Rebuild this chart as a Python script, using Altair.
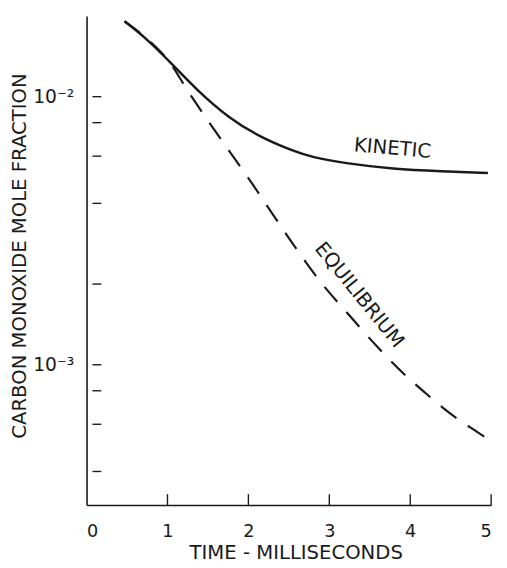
import altair as alt
import pandas as pd

# ---- data ----
kin_t = [0.47, 0.75, 1.06, 1.36, 1.76, 2.17, 2.57, 2.78, 3.18, 3.79, 4.39, 4.96]
kin_v = [1.91e-2, 1.64e-2, 1.32e-2, 1.06e-2, 8.3e-3, 7.0e-3, 6.25e-3,
         5.95e-3, 5.65e-3, 5.37e-3, 5.27e-3, 5.19e-3]

eq_t = [0.47, 0.75, 1.06, 1.21, 1.48, 1.75, 2.04, 2.31, 2.58, 2.89, 3.23, 3.59, 3.92,
        4.22, 4.53, 4.85, 4.96]
eq_v = [1.91e-2, 1.64e-2, 1.30e-2, 1.10e-2, 8.3e-3, 6.35e-3, 4.77e-3, 3.61e-3, 2.74e-3,
        2.04e-3, 1.55e-3, 1.17e-3, 9.26e-4, 7.7e-4, 6.46e-4, 5.56e-4, 5.28e-4]

x_ticks = [0, 1, 2, 3, 4, 5]
x_inner_ticks = [1, 2, 3, 4, 5]
y_labels = [1e-2, 1e-3]
y_inner_ticks = [1e-2, 8e-3, 6e-3, 4e-3, 2e-3, 1e-3, 8e-4, 6e-4, 4e-4]

label_text = ["KINETIC", "EQUILIBRIUM"]
label_t = [3.78, 3.37]
label_v = [6.4e-3, 1.82e-3]

FONT = "DejaVu Sans"
INK = "#1a1a1a"

kin = pd.DataFrame({"t": kin_t, "v": kin_v})
eq = pd.DataFrame({"t": eq_t, "v": eq_v})
xt = pd.DataFrame({"t": x_inner_ticks})
yt = pd.DataFrame({"v": y_inner_ticks})
lab = pd.DataFrame({"t": label_t, "v": label_v, "txt": label_text})

xscale = alt.Scale(domain=[0, 5], nice=False, zero=False)
yscale = alt.Scale(type="log", domain=[3e-4, 2e-2], nice=False)

xaxis = alt.Axis(
    values=x_ticks, format="d", ticks=False, grid=False,
    labelFontSize=18, labelPadding=18, labelFont=FONT, labelColor=INK,
    domainColor=INK, domainWidth=1.6,
    title="TIME - MILLISECONDS", titleFont=FONT, titleFontSize=20,
    titleFontWeight="normal", titleColor=INK,
    titleX=213, titleY=48, titleBaseline="middle", titleAlign="center",
)
yaxis = alt.Axis(
    values=y_labels, ticks=False, grid=False,
    labelExpr="datum.value > 0.005 ? '10⁻²' : '10⁻³'",
    labelFontSize=19, labelPadding=13, labelFont=FONT, labelColor=INK,
    domainColor=INK, domainWidth=1.6,
    title="CARBON MONOXIDE MOLE FRACTION", titleFont=FONT, titleFontSize=20,
    titleFontWeight="normal", titleColor=INK, titleAngle=270,
    titleX=-68, titleY=244, titleBaseline="middle", titleAlign="center",
)

X = alt.X("t:Q", scale=xscale, axis=xaxis)
Y = alt.Y("v:Q", scale=yscale, axis=yaxis)

kin_line = alt.Chart(kin).mark_line(
    color=INK, strokeWidth=2.5, interpolate="basis"
).encode(x=X, y=Y)

eq_line = alt.Chart(eq).mark_line(
    color=INK, strokeWidth=2.2, strokeDash=[20, 14], interpolate="monotone"
).encode(x=X, y=Y)

x_tick_marks = alt.Chart(xt).mark_rule(color=INK, strokeWidth=1.4).encode(
    x=X, y=alt.value(487), y2=alt.value(498),
)

y_tick_marks = alt.Chart(yt).mark_rule(color=INK, strokeWidth=1.4).encode(
    y=Y, x=alt.value(6), x2=alt.value(15),
)

kin_label = alt.Chart(lab.iloc[[0]]).mark_text(
    font=FONT, fontSize=20, color=INK, angle=5
).encode(x=X, y=Y, text="txt:N")

eq_label = alt.Chart(lab.iloc[[1]]).mark_text(
    font=FONT, fontSize=20, color=INK, angle=51
).encode(x=X, y=Y, text="txt:N")

chart = alt.layer(
    kin_line, eq_line, x_tick_marks, y_tick_marks, kin_label, eq_label
).properties(
    width=412, height=498,
    autosize=alt.AutoSizeParams(type="none"),
    padding={"left": 80, "top": 3, "right": 8, "bottom": 55},
    background="white",
).configure_view(stroke=None)

chart.save("out.html", embed_options={"renderer": "svg", "actions": False})
